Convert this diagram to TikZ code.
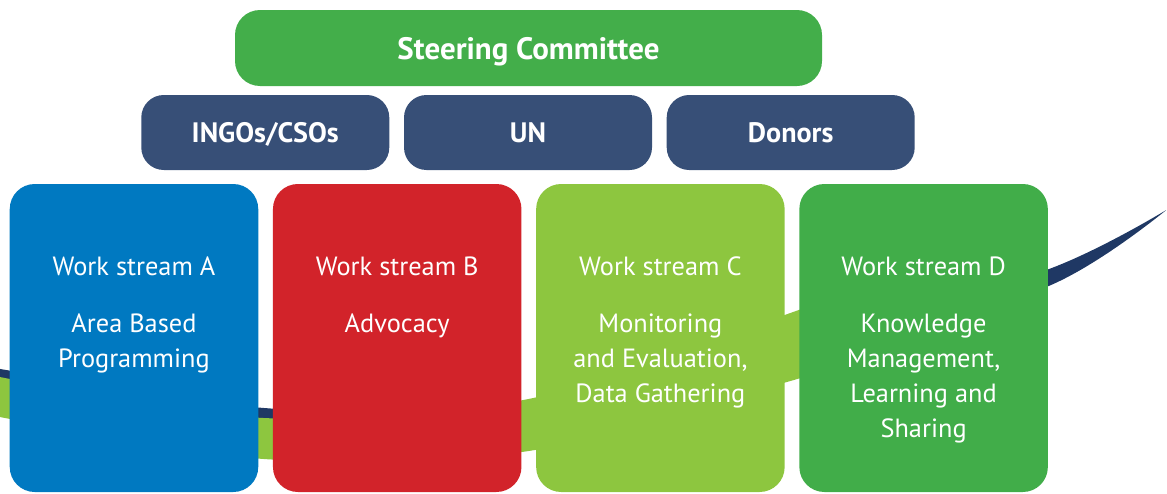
\documentclass[tikz,border=0pt]{standalone}
\usepackage{fontspec}
\setmainfont{PT Sans}
\usetikzlibrary{positioning}
\definecolor{scgreen}{HTML}{43AE4A}
\definecolor{grpnavy}{HTML}{374F77}
\definecolor{wsblue}{HTML}{0079C1}
\definecolor{wsred}{HTML}{D2232A}
\definecolor{wslime}{HTML}{8DC63F}
\definecolor{wsgreen}{HTML}{41AD49}
\definecolor{swnavy}{HTML}{1F3864}
\tikzstyle{group}=[fill=grpnavy, text=white, rounded corners=0.45cm, minimum width=4.96cm, minimum height=1.5cm, inner sep=0pt, text depth=0pt, font=\fontsize{16}{19}\selectfont\bfseries]
\tikzstyle{stream}=[rounded corners=0.5cm, minimum width=4.97cm, minimum height=6.16cm, inner sep=0pt]
\tikzstyle{wstext}=[text=white, align=center, inner sep=0pt, font=\fontsize{15}{19.9}\selectfont]

\begin{document}
\begin{tikzpicture}[node distance=0.28cm]
  \useasboundingbox (0,0) rectangle (23.34,9.86);
  % swoosh behind the work streams
  \begin{scope}[yshift=9.86cm, x=0.02cm, y=-0.02cm]
    \clip (0,0) rectangle (1167,493);
    \fill[swnavy] plot[smooth] coordinates {(-5,368) (265,408) (528,408) (790,345) (1046,270) (1166,210)}
      -- plot[smooth] coordinates {(1166,210) (1046,287) (790,362) (528,424) (265,419) (-5,377)} -- cycle;
    \fill[wslime] plot[smooth] coordinates {(-5,376) (265,418) (528,399) (790,313) (950,250)}
      -- plot[smooth] coordinates {(950,330) (790,381) (528,451) (265,459) (-5,416)} -- cycle;
  \end{scope}
  % committee and groups
  \node [group, fill=scgreen, rounded corners=0.5cm, minimum width=11.74cm, minimum height=1.52cm, font=\fontsize{17.6}{20}\selectfont\bfseries] (steer) at (10.57,8.90) {Steering Committee};
  \node [group] (un) at (10.56,7.21) {UN};
  \node [group, left=of un] (ngo) {INGOs/CSOs};
  \node [group, right=of un] (donor) {Donors};
  % work streams
  \node [stream, fill=wsblue] (wsA) at (2.68,3.1) {};
  \node [stream, fill=wsred, right=of wsA] (wsB) {};
  \node [stream, fill=wslime, right=of wsB] (wsC) {};
  \node [stream, fill=wsgreen, right=of wsC] (wsD) {};
  \node [wstext] (tA) at ([yshift=-1.66cm]wsA.north) {Work stream A};
  \node [wstext] (tB) at ([yshift=-1.66cm]wsB.north) {Work stream B};
  \node [wstext] (tC) at ([yshift=-1.66cm]wsC.north) {Work stream C};
  \node [wstext] (tD) at ([yshift=-1.66cm]wsD.north) {Work stream D};
  \node [wstext, below=0.74cm of tA] (bA) {Area Based\\Programming};
  \node [wstext, below=0.74cm of tB] (bB) {Advocacy};
  \node [wstext, below=0.74cm of tC] (bC) {Monitoring\\and Evaluation,\\Data Gathering};
  \node [wstext, below=0.74cm of tD] (bD) {Knowledge\\Management,\\Learning and\\Sharing};
\end{tikzpicture}
\end{document}
